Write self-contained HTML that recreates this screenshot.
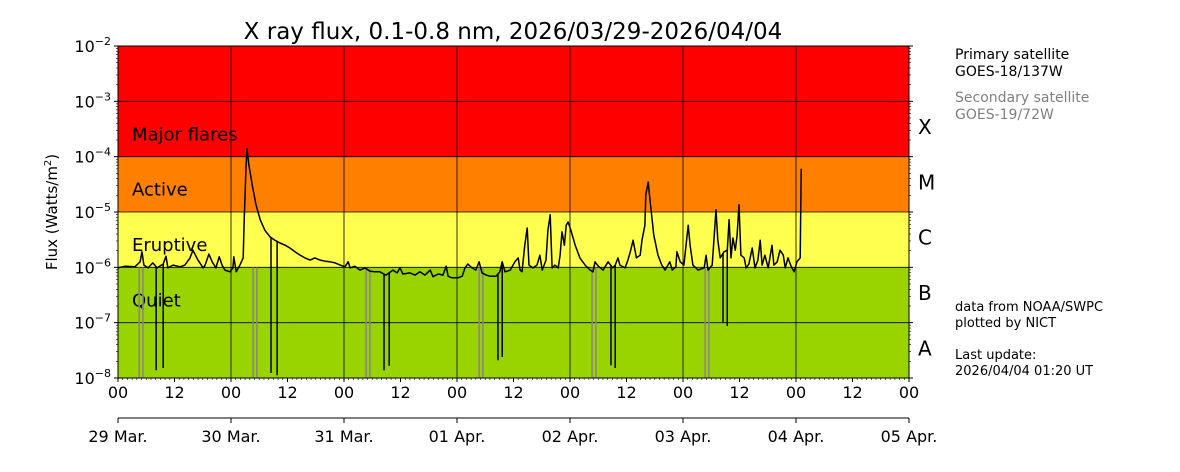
<!DOCTYPE html>
<html><head><meta charset="utf-8"><style>
body{margin:0;background:#fff}
svg{display:block;font-family:"DejaVu Sans","Liberation Sans",sans-serif}
</style></head><body>
<svg id="chart" width="1180" height="472" viewBox="0 0 1180 472" xmlns="http://www.w3.org/2000/svg"></svg>
<script>
// time in hours since 2026/03/29 00 UT, log10 flux
const primaryHours=[0,1.5,3.6,4.7,5.1,5.5,6.4,7.4,8.3,9.6,10.2,10.6,11.7,13.2,14.2,15.3,15.9,17.0,18.1,18.5,19.3,20.0,20.8,21.5,22.1,22.7,23.8,24.4,24.6,25.1,25.9,26.6,26.8,27.2,27.4,27.8,28.5,29.3,30.2,31.2,32.3,33.3,34.4,35.5,36.5,37.6,38.7,39.7,40.8,41.8,42.9,44.0,45.0,46.1,47.2,48.2,48.9,49.3,50.3,51.4,52.5,53.5,54.6,55.6,56.9,58.4,59.3,59.9,60.5,62.0,63.1,64.1,65.2,66.3,66.9,68.0,69.0,69.7,70.1,70.9,72.2,73.1,73.7,74.3,75.2,76.0,76.7,77.3,78.2,79.0,80.3,81.1,81.6,82.2,83.3,84.3,85.0,85.4,85.8,86.4,86.9,87.3,88.1,89.0,89.6,90.1,90.9,91.3,91.8,92.2,92.8,93.5,93.9,94.3,94.8,95.2,95.6,96.2,97.1,98.1,99.2,100.3,100.9,101.3,102.0,103.0,104.1,105.1,105.6,106.2,106.6,107.7,108.3,108.8,109.4,110.1,110.9,111.3,111.9,112.1,112.6,113.0,113.8,114.7,115.5,116.2,116.8,117.2,117.7,118.5,118.7,119.4,120.2,121.1,121.5,122.1,123.2,124.5,124.9,125.3,126.2,127.0,127.4,127.9,128.7,129.4,129.8,130.2,130.6,131.1,131.5,131.9,132.3,133.0,133.4,134.0,134.7,135.3,135.9,136.4,136.8,137.4,138.1,138.9,139.3,140.0,140.6,141.3,141.7,142.3,143.0,143.6,144.2,144.9,145.1];
const primaryLogFlux=[-6.01,-5.98,-5.99,-5.90,-5.72,-5.96,-6.01,-5.92,-6.01,-5.94,-5.80,-6.01,-5.96,-5.99,-5.96,-5.83,-5.69,-5.87,-6.01,-5.96,-5.76,-5.90,-6.01,-5.81,-5.96,-6.05,-6.08,-6.01,-5.81,-6.08,-5.96,-5.83,-5.14,-4.15,-3.86,-4.15,-4.51,-4.87,-5.14,-5.33,-5.45,-5.51,-5.56,-5.60,-5.65,-5.72,-5.78,-5.83,-5.87,-5.83,-5.87,-5.89,-5.90,-5.92,-5.96,-5.99,-5.90,-6.01,-5.98,-6.05,-6.01,-6.07,-6.08,-6.08,-6.14,-6.05,-6.10,-6.01,-6.12,-6.10,-6.14,-6.08,-6.14,-6.05,-6.17,-6.12,-6.14,-5.98,-6.16,-6.19,-6.19,-6.16,-6.01,-5.94,-6.01,-6.05,-5.90,-6.10,-6.14,-6.16,-6.16,-6.08,-5.90,-6.08,-6.05,-5.90,-5.83,-6.05,-6.08,-5.60,-5.29,-5.96,-6.01,-5.96,-5.78,-6.05,-5.87,-5.33,-5.05,-6.01,-5.96,-6.01,-5.78,-5.36,-5.60,-5.24,-5.18,-5.33,-5.60,-5.83,-5.96,-6.05,-6.08,-5.90,-5.98,-6.05,-5.90,-6.01,-5.96,-5.83,-5.96,-6.01,-5.87,-5.72,-5.51,-5.83,-5.78,-5.51,-5.24,-4.69,-4.46,-4.78,-5.42,-5.78,-5.96,-6.05,-5.96,-5.90,-6.05,-5.99,-5.72,-5.90,-5.96,-5.24,-5.60,-5.96,-6.05,-6.01,-5.78,-6.05,-5.96,-4.96,-5.51,-5.83,-5.72,-5.69,-5.14,-5.83,-5.47,-5.69,-5.42,-4.87,-5.78,-5.83,-6.01,-5.94,-5.65,-6.01,-5.87,-5.51,-5.96,-5.78,-6.01,-5.60,-5.96,-5.90,-5.69,-5.78,-6.01,-5.83,-5.99,-6.08,-5.90,-5.83,-4.22];
const dropoutHours=[8.1,9.6,32.5,33.8,56.5,57.6,80.7,81.6,104.7,105.6,128.5,129.4];
const dropoutLogFlux=[-7.86,-7.82,-7.91,-7.95,-7.86,-7.78,-7.68,-7.62,-7.77,-7.82,-6.99,-7.06];
const secondaryDropoutHours=[4.5,5.3,28.7,29.5,52.7,53.5,76.7,77.5,100.7,101.5,124.7,125.5];
const secondaryDropoutLogFlux=[-8,-8,-8,-8,-8,-8,-8,-8,-8,-8,-8,-8];
const decadeTicks=[-2,-3,-4,-5,-6,-7,-8];
const hourTickLabels=["00","12","00","12","00","12","00","12","00","12","00","12","00","12","00"];
const dayLabels=["29 Mar.","30 Mar.","31 Mar.","01 Apr.","02 Apr.","03 Apr.","04 Apr.","05 Apr."];
const bands=[{lo:-4,hi:-2,c:"#ff0000",name:"Major flares"},{lo:-5,hi:-4,c:"#ff8000",name:"Active"},{lo:-6,hi:-5,c:"#ffff50",name:"Eruptive"},{lo:-8,hi:-6,c:"#99d400",name:"Quiet"}];

const L=118,R=909,T=46,B=378,NS="http://www.w3.org/2000/svg";
const xs=h=>L+h*(R-L)/168;
const ys=v=>T+(-2-v)*(B-T)/6;
const svg=document.getElementById('chart');
function el(tag,at,txt){const e=document.createElementNS(NS,tag);for(const k in at)e.setAttribute(k,at[k]);if(txt!==undefined)e.textContent=txt;svg.appendChild(e);return e;}

bands.forEach(b=>{const r=el('rect',{x:L,y:ys(b.hi),width:R-L,height:ys(b.lo)-ys(b.hi),fill:b.c});

});
decadeTicks.forEach(d=>{const g=el('line',{x1:L,x2:R,y1:ys(d),y2:ys(d),stroke:'#000','stroke-width':0.8});

});
for(let d=1;d<7;d++){const g=el('line',{x1:xs(d*24),x2:xs(d*24),y1:T,y2:B,stroke:'#000','stroke-width':0.8});

}
const bandLabelLog=[-3.65,-4.65,-5.65,-6.65];
bands.forEach((b,i)=>{const t=el('text',{x:132,y:ys(bandLabelLog[i])+3,'font-size':18,fill:'#000'},b.name);

});
const classes=["X","M","C","B","A"];
classes.forEach((c,i)=>{const t=el('text',{x:918,y:ys(-3.5-i)+5,'font-size':20,fill:'#000'},c);

});
secondaryDropoutHours.forEach((h,i)=>{const ln=el('line',{x1:xs(h),x2:xs(h),y1:ys(-6),y2:ys(secondaryDropoutLogFlux[i]),stroke:'#888','stroke-width':1.6});

});
function interp(h){for(let i=1;i<primaryHours.length;i++){if(primaryHours[i]>=h){const a=primaryHours[i-1],b=primaryHours[i];const t=(h-a)/(b-a||1);return primaryLogFlux[i-1]+t*(primaryLogFlux[i]-primaryLogFlux[i-1]);}}return primaryLogFlux[primaryLogFlux.length-1];}
dropoutHours.forEach((h,i)=>{const ln=el('line',{x1:xs(h),x2:xs(h),y1:ys(interp(h)),y2:ys(dropoutLogFlux[i]),stroke:'#000','stroke-width':1.5});

});
const pts=primaryHours.map((h,i)=>xs(h).toFixed(1)+','+ys(primaryLogFlux[i]).toFixed(1)).join(' ');
const pl=el('polyline',{points:pts,fill:'none',stroke:'#000','stroke-width':1.5,'stroke-linejoin':'round'});


const fr=el('rect',{x:L,y:T,width:R-L,height:B-T,fill:'none',stroke:'#000','stroke-width':1});


decadeTicks.forEach(d=>{el('line',{x1:L-4,x2:L,y1:ys(d),y2:ys(d),stroke:'#000'});el('line',{x1:R,x2:R+4,y1:ys(d),y2:ys(d),stroke:'#000'});
const t=el('text',{x:L-7,y:ys(d)+6,'font-size':16,'text-anchor':'end'});


const a=document.createElementNS(NS,'tspan');a.textContent='10';t.appendChild(a);
const s=document.createElementNS(NS,'tspan');s.setAttribute('dy','-7');s.setAttribute('font-size','11');s.textContent='\u2212'+(-d);t.appendChild(s);
if(d>-8)for(let m=2;m<10;m++){const yy=ys(d-1+Math.log10(m));el('line',{x1:L-2,x2:L,y1:yy,y2:yy,stroke:'#000','stroke-width':0.6});el('line',{x1:R,x2:R+2,y1:yy,y2:yy,stroke:'#000','stroke-width':0.6});}
});
for(let h=0;h<=168;h++){const maj=h%12===0;el('line',{x1:xs(h),x2:xs(h),y1:B,y2:B+(maj?4:2),stroke:'#000','stroke-width':maj?1:0.6});}
hourTickLabels.forEach((s,i)=>{const t=el('text',{x:xs(i*12),y:B+20,'font-size':16,'text-anchor':'middle'},s);

});
el('line',{x1:L,x2:R,y1:418,y2:418,stroke:'#000'});
dayLabels.forEach((s,i)=>{el('line',{x1:xs(i*24),x2:xs(i*24),y1:418,y2:423,stroke:'#000'});
const t=el('text',{x:xs(i*24),y:442,'font-size':16,'text-anchor':'middle'},s);

});
const ti=el('text',{x:513,y:39,'font-size':23,'text-anchor':'middle'},'X ray flux, 0.1-0.8 nm, 2026/03/29-2026/04/04');


const yt=el('text',{transform:'translate(57,212) rotate(-90)','font-size':15,'text-anchor':'middle'});


yt.innerHTML='Flux (Watts/m<tspan dy="-6" font-size="10">2</tspan><tspan dy="6">)</tspan>';
const info=[["Primary satellite",59,"#000"],["GOES-18/137W",76,"#000"],["Secondary satellite",102,"#808080"],["GOES-19/72W",119,"#808080"]];
info.forEach(r=>{const t=el('text',{x:955,y:r[1],'font-size':14,fill:r[2]},r[0]);

});
const notes=[["data from NOAA/SWPC",311],["plotted by NICT",327],["Last update:",359],["2026/04/04 01:20 UT",375]];
notes.forEach(r=>{const t=el('text',{x:955,y:r[1],'font-size':13},r[0]);

});
</script>
</body></html>
